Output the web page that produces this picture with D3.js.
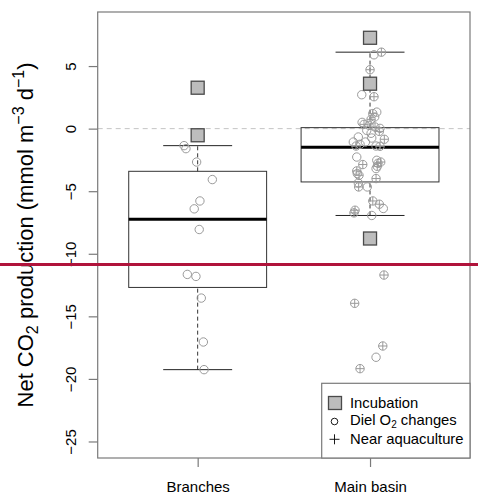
<!DOCTYPE html>
<html>
<head>
<meta charset="utf-8">
<script src="https://cdn.jsdelivr.net/npm/d3@7"></script>
<style>
  html, body { margin: 0; padding: 0; background: #fff; }
  svg { display: block; font-family: "Liberation Sans", Arial, Helvetica, sans-serif; }
</style>
</head>
<body>
<svg id="chart" width="478" height="497"></svg>
<script>
// Groups on the x axis (positions 1 and 2)
const categories = ["Branches", "Main basin"];

// Box statistics per group: [lower whisker, Q1, median, Q3, upper whisker]
const boxBranches = [-19.26, -12.69, -7.24, -3.41, -1.36];
const boxMainBasin = [-6.94, -4.26, -1.49, 0.08, 6.11];

// Incubation measurements
const incubationBranches = [3.27, -0.53];
const incubationMainBasin = [7.26, 3.59, -8.78];

// Diel O2 change estimates, with horizontal jitter (category units)
const dielBranches = [-1.36, -1.60, -2.67, -4.07, -5.78, -6.41, -8.06, -11.65, -11.81, -13.54, -17.05, -19.26];
const jitterBranches = [-0.079, -0.068, -0.006, 0.085, 0.013, -0.020, 0.009, -0.060, -0.010, 0.021, 0.033, 0.037];

const dielMainBasin = [6.11, 5.90, 4.71, 2.71, 2.55, 1.32, 1.20, 0.93, 0.74, 0.50, 0.34, 0.26, 0.13, 0.02,
  -0.14, -0.22, -0.37, -0.67, -0.75, -0.85, -1.07, -1.07, -1.39, -1.39, -1.41, -1.25, -2.27, -2.53, -2.67,
  -2.87, -2.77, -3.01, -3.19, -3.38, -3.59, -3.73, -3.99, -4.34, -4.66, -4.66, -5.78, -6.04, -6.38, -6.52,
  -6.73, -6.94, -11.70, -13.96, -17.37, -18.27, -19.18];
const jitterMainBasin = [0.066, 0.023, 0.000, -0.048, 0.023, 0.039, 0.016, 0.027, 0.006, -0.046, -0.035, -0.006, 0.029, 0.058,
  -0.019, 0.054, 0.006, -0.068, 0.010, 0.083, -0.097, -0.027, -0.081, 0.035, 0.058, -0.058, -0.077, 0.039, 0.062,
  -0.042, 0.046, 0.042, 0.035, -0.077, -0.074, -0.064, 0.035, -0.068, -0.066, -0.016, 0.016, 0.054, 0.077, -0.087,
  -0.093, 0.010, 0.081, -0.089, 0.074, 0.035, -0.058];
// 1 = sampled near aquaculture
const aquacultureMainBasin = [1, 0, 1, 0, 1, 0, 1, 0, 1, 0, 1, 0, 1, 0,
  0, 1, 0, 0, 0, 1, 0, 0, 1, 0, 1, 0, 0, 0, 1,
  1, 1, 1, 0, 1, 0, 1, 1, 0, 1, 0, 1, 1, 0, 1,
  1, 0, 1, 1, 1, 0, 1];

// Axis ticks
const yTicks = [5, 0, -5, -10, -15, -20, -25];
const yLimits = [-25, 8];

// Highlight rule level
const ruleLevel = -10.86;

const svg = d3.select("#chart");
const W = 478, H = 497;
const plot = { left: 97.7, right: 470, top: 12, bottom: 458 };

// R-style 4% axis expansion
const ySpan = yLimits[1] - yLimits[0];
const y = d3.scaleLinear()
  .domain([yLimits[0] - 0.04 * ySpan, yLimits[1] + 0.04 * ySpan])
  .range([plot.bottom, plot.top]);
const x = d3.scaleLinear()
  .domain([0.42, 2.58])
  .range([plot.left, plot.right]);

const grey = "#7a7a7a";
const pointGrey = "#9a9a9a";
const boxHalf = 0.4, capHalf = 0.2;

// Zero reference line
svg.append("line")
  .attr("x1", plot.left).attr("x2", plot.right)
  .attr("y1", y(0)).attr("y2", y(0))
  .attr("stroke", "#c4c4c4").attr("stroke-width", 1)
  .attr("stroke-dasharray", "5,4");

// Boxplots
const boxes = [boxBranches, boxMainBasin];
const gBox = svg.append("g");
boxes.forEach((s, i) => {
  const c = i + 1;
  const [lo, q1, med, q3, hi] = s;
  // whiskers
  [[lo, q1], [q3, hi]].forEach(([a, b]) => {
    gBox.append("line")
      .attr("x1", x(c)).attr("x2", x(c))
      .attr("y1", y(a)).attr("y2", y(b))
      .attr("stroke", "#333").attr("stroke-width", 1)
      .attr("stroke-dasharray", "4,3");
  });
  // caps
  [lo, hi].forEach(v => {
    gBox.append("line")
      .attr("x1", x(c - capHalf)).attr("x2", x(c + capHalf))
      .attr("y1", y(v)).attr("y2", y(v))
      .attr("stroke", "#222").attr("stroke-width", 1);
  });
  // box
  gBox.append("rect")
    .attr("x", x(c - boxHalf)).attr("width", x(c + boxHalf) - x(c - boxHalf))
    .attr("y", y(q3)).attr("height", y(q1) - y(q3))
    .attr("fill", "none").attr("stroke", "#333").attr("stroke-width", 1);
  // median
  gBox.append("line")
    .attr("x1", x(c - boxHalf)).attr("x2", x(c + boxHalf))
    .attr("y1", y(med)).attr("y2", y(med))
    .attr("stroke", "#000").attr("stroke-width", 3);
});

// Diel O2 points
const diel = [];
dielBranches.forEach((v, k) => diel.push({ c: 1 + jitterBranches[k], v, aq: 0 }));
dielMainBasin.forEach((v, k) => diel.push({ c: 2 + jitterMainBasin[k], v, aq: aquacultureMainBasin[k] }));

const r = 4.2;
const gPts = svg.append("g");
gPts.selectAll("circle").data(diel).join("circle")
  .attr("cx", d => x(d.c)).attr("cy", d => y(d.v)).attr("r", r)
  .attr("fill", "none").attr("stroke", pointGrey).attr("stroke-width", 1);
const plus = gPts.selectAll("g.plus").data(diel.filter(d => d.aq)).join("g")
  .attr("class", "plus")
  .attr("transform", d => `translate(${x(d.c)},${y(d.v)})`);
plus.append("line").attr("x1", -r).attr("x2", r).attr("y1", 0).attr("y2", 0)
  .attr("stroke", pointGrey).attr("stroke-width", 1);
plus.append("line").attr("x1", 0).attr("x2", 0).attr("y1", -r).attr("y2", r)
  .attr("stroke", pointGrey).attr("stroke-width", 1);

// Incubation squares
const incub = [];
incubationBranches.forEach(v => incub.push({ c: 1, v }));
incubationMainBasin.forEach(v => incub.push({ c: 2, v }));
const sq = 13;
svg.append("g").selectAll("rect").data(incub).join("rect")
  .attr("x", d => x(d.c) - sq / 2).attr("y", d => y(d.v) - sq / 2)
  .attr("width", sq).attr("height", sq)
  .attr("fill", "#bdbdbd").attr("stroke", "#4a4a4a").attr("stroke-width", 1.3);

// Plot frame
svg.append("rect")
  .attr("x", plot.left).attr("y", plot.top)
  .attr("width", plot.right - plot.left).attr("height", plot.bottom - plot.top)
  .attr("fill", "none").attr("stroke", grey).attr("stroke-width", 1.2);

// Y axis
const fmt = d => d < 0 ? "\u2212" + Math.abs(d) : String(d);
const yAxis = svg.append("g")
  .attr("transform", `translate(${plot.left},0)`)
  .call(d3.axisLeft(y).tickValues(yTicks).tickFormat(fmt).tickSize(9).tickSizeOuter(0));
yAxis.select(".domain").remove();
yAxis.selectAll(".tick line").attr("stroke", grey).attr("stroke-width", 1.2);
yAxis.selectAll(".tick text")
  .attr("x", null).attr("dy", null)
  .attr("text-anchor", "middle")
  .attr("transform", `translate(${75.5 - plot.left},0) rotate(-90)`)
  .attr("font-size", 15).attr("font-family", null).attr("fill", "#000");

// X axis
const xAxis = svg.append("g")
  .attr("transform", `translate(0,${plot.bottom})`)
  .call(d3.axisBottom(x).tickValues([1, 2]).tickFormat(i => categories[i - 1]).tickSize(9).tickSizeOuter(0));
xAxis.select(".domain").remove();
xAxis.selectAll(".tick line").attr("stroke", grey).attr("stroke-width", 1.2);
xAxis.selectAll(".tick text")
  .attr("y", 33.5).attr("dy", null)
  .attr("font-size", 15).attr("font-family", null).attr("fill", "#000");

// Y axis title
const yTitle = svg.append("text")
  .attr("transform", `translate(33,${(plot.top + plot.bottom) / 2}) rotate(-90)`)
  .attr("text-anchor", "middle")
  .attr("font-size", 22).attr("fill", "#000");
yTitle.append("tspan").text("Net CO");
yTitle.append("tspan").attr("font-size", 16).attr("dy", 5).text("2");
yTitle.append("tspan").attr("dy", -5).text(" production (mmol m");
yTitle.append("tspan").attr("font-size", 16).attr("dy", -9).text("\u22123");
yTitle.append("tspan").attr("dy", 9).text(" d");
yTitle.append("tspan").attr("font-size", 16).attr("dy", -9).text("\u22121");
yTitle.append("tspan").attr("dy", 9).text(")");

// Legend
const lg = svg.append("g");
lg.append("rect")
  .attr("x", 321.7).attr("y", 383.3)
  .attr("width", plot.right - 321.7).attr("height", plot.bottom - 383.3)
  .attr("fill", "#fff").attr("stroke", grey).attr("stroke-width", 1.2);
lg.append("rect").attr("x", 328.5).attr("y", 396.5).attr("width", 13).attr("height", 13)
  .attr("fill", "#bdbdbd").attr("stroke", "#4a4a4a").attr("stroke-width", 1.3);
lg.append("circle").attr("cx", 334.5).attr("cy", 421.5).attr("r", 3.3)
  .attr("fill", "none").attr("stroke", "#000").attr("stroke-width", 0.9);
lg.append("line").attr("x1", 329.5).attr("x2", 339.5).attr("y1", 439.3).attr("y2", 439.3)
  .attr("stroke", "#000").attr("stroke-width", 0.9);
lg.append("line").attr("x1", 334.5).attr("x2", 334.5).attr("y1", 434.3).attr("y2", 444.3)
  .attr("stroke", "#000").attr("stroke-width", 0.9);
lg.append("text").attr("x", 350).attr("y", 408).attr("font-size", 14.8).text("Incubation");
const t2 = lg.append("text").attr("x", 350).attr("y", 425).attr("font-size", 14.8);
t2.append("tspan").text("Diel O");
t2.append("tspan").attr("font-size", 10).attr("dy", 2.5).text("2");
t2.append("tspan").attr("dy", -2.5).text(" changes");
lg.append("text").attr("x", 350).attr("y", 443.5).attr("font-size", 14.8).text("Near aquaculture");

// Highlight rule across the figure
svg.append("line")
  .attr("x1", 0).attr("x2", W)
  .attr("y1", y(ruleLevel)).attr("y2", y(ruleLevel))
  .attr("stroke", "#b0133b").attr("stroke-width", 3);
</script>
</body>
</html>
